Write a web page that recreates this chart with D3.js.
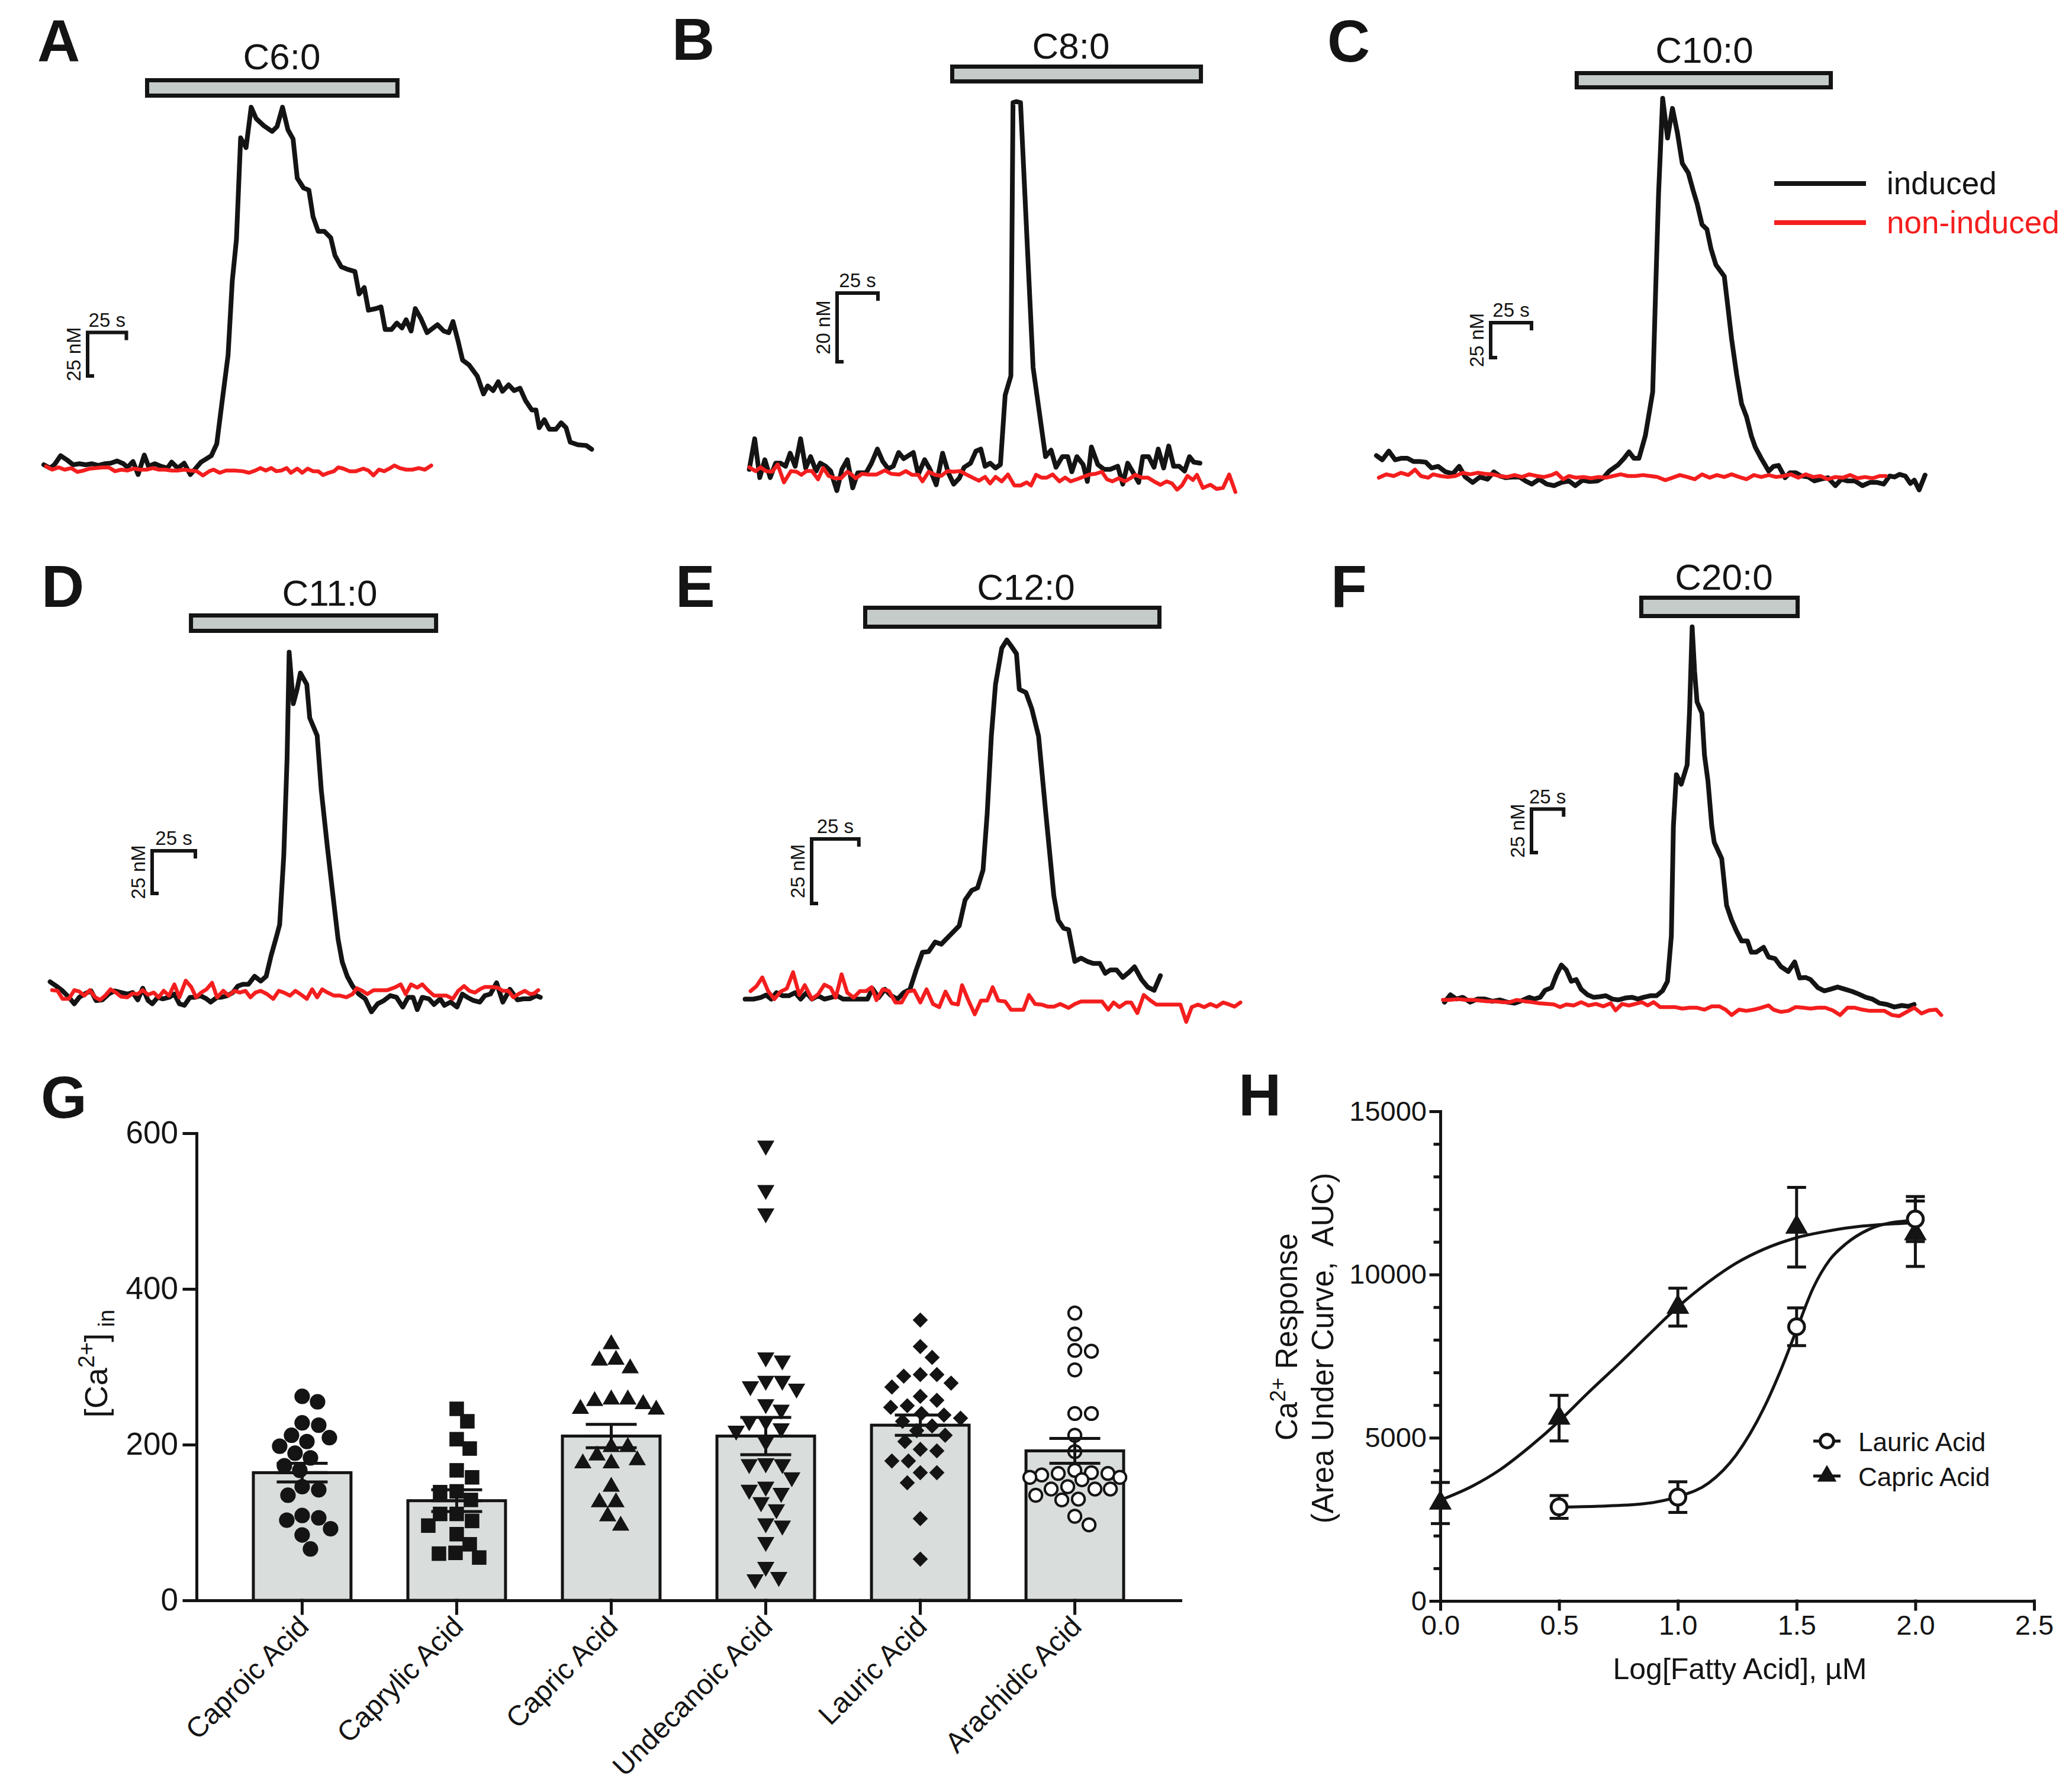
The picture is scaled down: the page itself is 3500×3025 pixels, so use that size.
<!DOCTYPE html>
<html><head><meta charset="utf-8">
<script src="https://cdn.jsdelivr.net/npm/d3@7"></script>
<style>body{margin:0;background:#fff}svg{display:block}text{font-family:"Liberation Sans",Arial,Helvetica,sans-serif}</style>
</head><body>
<svg id="fig" width="3500" height="3025"></svg>
<script>
// ===================== DATA =====================
// Traces: [time (s), Δ[Ca2+] (nM)]
const traceTitles = ["C6:0","C8:0","C10:0","C11:0","C12:0","C20:0"];
const exposureWindows = [[66.6,228],[124.2,276.4],[122.6,278.1],[81.5,223.3],[63.6,219.4],[153.2,274.9]];
const scaleBarNM = [25,20,25,25,25,25];
const scaleBarS = 25;

const traceA_induced = [[0,0],[4.0,-1.9],[6.8,0],[10.8,5.2],[14.9,2.8],[18.9,0],[23.0,0.6],[27.0,0],[31.1,0.6],[35.1,-0.4],[39.2,0.6],[43.2,0.9],[47.3,2.2],[51.3,0.6],[54.0,-1.5],[57.5,1.9],[60.8,-5.6],[64.8,5.6],[67.5,-0.9],[71.6,0.6],[75.6,-0.9],[79.7,-1.9],[82.4,1.5],[86.4,-1.9],[90.5,0.9],[94.5,-5.6],[97.2,-2.8],[101.3,1.5],[105.3,3.7],[108.0,5.2],[111.5,12.0],[114.8,35.2],[118.8,62.9],[121.5,105.5],[124.2,129.5],[126.9,187.8],[130.4,182.2],[133.7,205.4],[136.9,198.9],[141.8,194.8],[147.2,191.5],[150.4,194.3],[153.9,205.4],[157.4,192.4],[160.7,187.2],[163.4,164.7],[167.4,159.1],[170.9,157.8],[173.6,142.5],[176.9,134.1],[180.9,134.1],[185.0,130.4],[187.7,120.3],[191.7,113.8],[195.8,112.3],[200.6,111.0],[203.3,98.1],[206.6,101.8],[209.3,88.8],[214.1,89.7],[217.4,90.7],[220.1,77.7],[224.1,77.7],[227.6,81.4],[230.9,78.6],[233.6,83.3],[236.8,76.8],[239.5,89.7],[243.0,84.2],[247.1,75.9],[253.8,80.5],[257.9,76.8],[261.1,75.9],[263.8,82.3],[267.3,70.3],[270.0,60.1],[274.1,57.4],[279.5,50.9],[283.5,40.7],[286.2,45.3],[289.7,42.6],[293.0,47.7],[295.7,42.2],[299.7,45.9],[303.2,42.6],[307.0,44.0],[310.5,37.0],[314.6,31.5],[317.3,31.5],[319.4,21.3],[322.7,25.9],[325.9,20.4],[330.2,20.4],[333.5,24.1],[336.7,21.3],[339.4,13.0],[344.3,11.5],[349.7,11.1],[353.2,8.9]];
const traceA_noninduced = [[1.4,-0.9],[5.4,-2.8],[9.5,-1.5],[13.5,-2.8],[17.6,-1.9],[21.6,-4.1],[25.7,-3.3],[29.7,-2.2],[33.8,-1.9],[37.8,-1.5],[41.9,-1.5],[45.9,-3.7],[50.0,-2.8],[54.0,-3.3],[58.1,-2.2],[62.1,-2.8],[66.2,-2.8],[70.2,-1.9],[74.3,-2.8],[78.3,-2.8],[82.4,-3.3],[86.4,-3.3],[90.5,-2.8],[94.5,-3.3],[98.6,-3.7],[102.6,-6.1],[106.7,-3.7],[109.4,-2.8],[113.4,-4.6],[117.5,-3.3],[122.9,-3.3],[128.3,-3.7],[132.3,-4.6],[136.4,-3.3],[139.6,-1.9],[143.1,-3.3],[146.6,-1.9],[149.9,-3.7],[153.1,-3.3],[156.6,-1.9],[159.3,-4.6],[163.4,-2.2],[166.6,-4.6],[170.1,-2.2],[173.6,-3.7],[176.9,-3.7],[180.1,-5.9],[183.6,-4.6],[187.1,-3.7],[189.8,-1.5],[193.1,-2.2],[197.1,-3.7],[201.2,-3.7],[206.0,-2.2],[209.3,-3.3],[212.5,-6.1],[216.0,-2.8],[219.5,-3.7],[222.8,-2.2],[226.0,-0.4],[229.5,-1.9],[233.6,-2.8],[237.6,-2.8],[241.7,-1.9],[245.7,-2.8],[249.8,-0.4]];

const traceB_induced = [[0,-0.9],[3.3,8.0],[6.4,-3.3],[9.5,1.9],[12.8,-3.3],[16.1,0.9],[19.2,0.9],[22.2,0],[25.0,3.8],[28.1,0],[31.4,8.0],[34.5,-0.5],[37.5,2.8],[40.9,-1.4],[43.4,0.9],[46.7,0],[49.8,-1.4],[53.6,-7.1],[56.7,-0.9],[60.0,1.9],[63.3,-6.3],[66.4,-1.9],[71.5,-1.9],[74.8,0.9],[78.4,5.0],[81.7,1.4],[85.0,-0.7],[88.1,0],[91.4,4.0],[94.5,2.2],[100.4,4.0],[103.4,-2.4],[107.3,1.9],[110.6,-0.9],[114.4,-5.4],[118.3,3.8],[121.8,-1.9],[125.1,-5.2],[128.5,-3.5],[131.5,-0.3],[135.4,0.9],[138.7,4.4],[141.7,5.0],[144.3,0],[147.4,0.9],[150.7,-0.5],[153.7,0.5],[156.6,20.7],[160.1,26.3],[161.4,105.9],[163.5,106.2],[166.0,105.9],[173.7,28.7],[181.3,2.8],[184.7,4.7],[187.7,-0.3],[191.6,2.8],[194.9,2.8],[197.4,-1.6],[200.5,2.8],[204.3,0.5],[206.9,-4.4],[209.4,5.6],[213.3,0.5],[217.1,-0.9],[220.9,-0.9],[225.5,0],[228.6,-5.2],[231.6,0.9],[235.0,-1.9],[238.3,-4.7],[240.8,2.8],[244.4,2.8],[247.7,-0.3],[250.3,5.0],[253.6,-0.5],[256.7,5.9],[259.7,0],[263.1,0],[266.4,-1.4],[269.4,2.8],[272.0,1.2],[275.8,0.9]];
const traceB_noninduced = [[0,-0.3],[3.8,-1.4],[6.9,-0.3],[10.2,-1.4],[14.0,-1.6],[17.4,0.5],[21.2,-4.7],[25.5,-1.4],[28.9,-1.6],[31.9,-2.5],[35.0,-1.4],[38.3,-1.4],[42.1,-3.8],[45.2,-0.5],[48.5,-2.8],[52.4,-3.5],[56.2,-3.5],[60.0,-1.6],[62.6,-2.4],[65.1,-3.5],[69.0,-2.2],[72.8,-2.4],[77.9,-2.4],[83.0,-1.2],[86.8,-2.2],[91.9,-2.4],[95.8,-1.4],[99.6,-2.5],[103.4,-2.5],[106.0,-4.4],[109.8,-1.6],[113.7,-2.5],[117.5,-2.8],[121.3,-1.4],[125.1,-1.6],[129.0,-1.4],[132.8,-2.4],[136.6,-3.3],[140.5,-4.2],[144.3,-3.1],[147.4,-5.0],[150.7,-3.1],[154.5,-4.4],[158.3,-2.4],[162.2,-5.6],[166.0,-5.6],[169.8,-4.7],[172.4,-5.6],[175.5,-2.5],[178.8,-3.3],[182.1,-3.3],[185.7,-2.4],[189.8,-4.4],[193.3,-3.3],[196.7,-4.4],[200.5,-3.8],[204.3,-3.1],[208.2,-2.4],[212.0,-2.2],[215.8,-1.6],[218.9,-3.8],[222.2,-4.4],[226.0,-3.5],[229.9,-4.4],[233.2,-3.5],[236.2,-2.5],[240.1,-3.3],[243.9,-3.3],[247.7,-4.4],[251.6,-5.4],[255.4,-4.4],[258.7,-5.0],[261.8,-6.8],[264.8,-5.6],[268.2,-2.8],[271.5,-4.0],[274.0,-2.5],[277.6,-6.3],[282.2,-5.4],[286.0,-6.6],[289.9,-6.3],[293.7,-2.4],[297.5,-7.5]];

const traceC_induced = [[0,14.6],[3.6,11.6],[7.6,17.8],[11.5,11.6],[15.1,12.7],[19.0,12.7],[22.7,10.4],[26.6,10.4],[30.2,9.9],[33.8,5.8],[37.8,6.9],[42.3,3.0],[46.8,1.6],[50.7,6.9],[54.4,-0.7],[58.9,-4.6],[63.4,-0.7],[68.0,-2.3],[71.9,3.0],[75.5,0],[79.1,-1.2],[83.1,-0.7],[87.6,-0.7],[91.2,-3.5],[95.1,-5.8],[99.7,-2.3],[104.2,-5.8],[108.7,-6.9],[113.3,-4.6],[117.8,-3.5],[121.7,-6.9],[126.2,-3.0],[130.5,-3.9],[135.3,-3.5],[138.9,-1.2],[142.5,3.5],[148.0,8.1],[151.6,12.7],[154.6,17.3],[157.6,12.7],[160.7,12.7],[164.6,28.9],[169.1,60.1],[170.9,132.9],[172.7,202.2],[175.2,270.3],[178.2,241.9],[181.2,263.1],[184.2,245.8],[187.2,223.8],[190.9,216.9],[193.9,204.2],[196.3,194.9],[199.3,179.9],[202.3,176.5],[204.8,162.6],[207.8,151.1],[212.9,143.0],[215.0,122.2],[217.4,98.0],[220.5,72.5],[223.5,51.7],[226.5,42.5],[229.5,28.6],[231.9,20.6],[235.6,12.5],[240.1,3.5],[243.1,6.9],[246.1,7.6],[250.1,-1.2],[253.1,2.3],[256.7,2.3],[260.3,0],[264.3,-0.7],[268.2,-3.5],[271.8,-2.3],[276.3,-1.2],[280.9,-6.9],[284.5,-2.3],[288.4,-3.5],[292.9,-3.5],[297.5,-6.9],[302.0,-4.6],[306.5,-4.6],[310.5,-5.8],[314.1,0],[317.1,-0.7],[320.1,1.2],[323.7,0],[326.8,-5.3],[329.2,-3.0],[332.2,-9.9],[335.8,0.7]];
const traceC_noninduced = [[1.5,-1.2],[6.0,1.2],[10.6,0],[15.1,2.3],[19.6,0.7],[23.6,4.6],[27.2,0],[31.7,-1.2],[34.7,1.2],[39.3,0],[43.8,-0.7],[48.3,0],[52.9,2.3],[57.4,1.2],[61.9,2.3],[66.4,1.6],[71.0,1.2],[75.5,0],[80.0,-0.7],[84.6,0.7],[89.1,-0.7],[93.6,1.2],[98.2,0],[102.7,-0.7],[107.2,0.7],[110.2,2.3],[114.2,-2.3],[117.8,0],[122.3,-1.2],[126.8,-0.7],[131.4,-1.6],[135.9,-0.7],[140.4,-1.2],[145.0,0],[149.5,1.2],[154.0,0],[158.6,0],[163.1,0.7],[167.6,0],[172.1,-0.7],[176.7,-3.0],[181.2,-1.2],[185.7,0.7],[190.3,-0.7],[194.8,-2.3],[199.3,1.2],[203.9,-1.2],[208.4,0.7],[212.9,-0.7],[217.4,1.2],[222.0,-0.7],[226.5,-2.3],[231.0,0.7],[235.6,-0.7],[240.1,0.7],[244.6,-0.7],[249.2,0],[253.7,1.2],[258.2,-1.2],[262.7,1.2],[267.3,-0.7],[271.8,0],[276.3,-2.3],[280.9,-0.7],[285.4,-1.2],[289.9,0.7],[294.5,-1.6],[299.0,-0.7],[303.5,-1.6],[308.0,0],[311.7,0]];

const traceD_induced = [[0,7.2],[3.6,4.7],[7.2,1.9],[10.9,-1.9],[14.0,-5.7],[16.9,-1.9],[20.5,0.4],[23.7,1.9],[26.6,-3.8],[30.2,-3.4],[33.8,0],[37.4,1.9],[41.0,0.9],[44.7,0],[47.8,0.9],[50.7,-3.4],[53.6,3.4],[56.7,-3.8],[59.1,-5.7],[62.3,-1.9],[65.2,-2.8],[68.8,-1.9],[71.9,0],[74.8,-5.7],[77.7,-6.6],[80.9,-1.9],[84.0,-1.9],[86.9,-0.9],[90.5,-2.8],[92.9,-4.7],[96.6,-1.9],[99.0,-1.9],[102.6,-0.9],[105.7,0.9],[108.6,4.7],[111.5,5.7],[114.7,5.7],[118.3,10.4],[121.9,7.6],[125.0,10.4],[127.9,22.7],[130.8,33.1],[132.8,40.7],[135.2,81.4],[137.1,138.1],[138.3,200.5],[140.7,170.3],[142.9,178.8],[144.8,188.3],[148.5,181.6],[150.2,162.0],[154.5,151.6],[156.9,119.4],[160.5,85.4],[164.2,53.0],[166.6,32.2],[169.0,18.9],[171.9,10.4],[175.0,4.7],[178.6,0],[182.3,-2.8],[185.9,-10.4],[189.5,-5.7],[193.1,-3.8],[196.8,-0.9],[200.4,-1.9],[204.0,-7.6],[207.1,-1.9],[210.0,-1.9],[212.4,-9.1],[215.3,-1.9],[219.2,-2.8],[222.1,-6.1],[225.7,-2.8],[228.1,-6.6],[231.7,-4.7],[235.4,-7.6],[238.5,0],[241.4,-1.9],[245.0,-3.8],[248.6,-4.7],[251.5,-0.9],[254.7,0],[258.3,6.6],[261.9,-4.7],[266.0,2.8],[270.4,-3.4],[273.9,-2.8],[277.6,-2.8],[281.2,-0.9],[283.6,-1.9]];
const traceD_noninduced = [[1.2,2.3],[4.3,1.9],[7.2,-2.8],[10.9,-2.8],[14.0,2.3],[16.9,1.5],[19.8,-0.9],[23.0,2.3],[26.1,-1.9],[29.0,-3.4],[31.9,-0.9],[35.0,2.8],[38.1,0.9],[41.0,-1.5],[44.7,-1.9],[47.8,0.4],[50.7,0],[53.6,2.3],[56.7,-0.4],[59.9,0.9],[62.8,-1.9],[65.7,1.9],[68.8,-0.9],[71.9,5.7],[74.8,-1.9],[78.5,7.9],[81.6,4.2],[84.5,-1.9],[87.4,0.9],[90.5,2.8],[93.7,6.6],[96.6,-1.9],[100.2,1.9],[103.3,-0.9],[106.7,1.9],[109.8,0.9],[113.0,1.9],[115.9,-1.9],[118.8,0.9],[121.9,1.9],[125.5,0],[129.1,-2.8],[132.3,1.9],[135.2,0.9],[138.8,-0.9],[141.9,1.9],[145.3,-0.4],[148.5,-2.8],[151.6,2.8],[154.5,-1.9],[157.4,2.8],[160.5,0.9],[164.2,-0.9],[167.8,-0.9],[171.4,-1.9],[175.0,0],[177.4,3.4],[180.6,1.9],[183.5,0],[187.1,2.3],[191.2,2.3],[195.1,2.3],[199.2,3.8],[202.8,5.7],[205.7,0],[208.8,5.7],[212.4,3.8],[215.3,5.7],[218.5,2.3],[222.1,-0.9],[225.7,-0.9],[229.3,-0.9],[233.0,-2.8],[236.1,1.9],[239.5,4.7],[242.6,1.9],[245.7,0.9],[248.6,2.8],[251.5,4.2],[255.4,4.2],[258.8,3.8],[261.9,1.9],[265.1,1.9],[268.0,-1.9],[271.6,0.4],[274.7,1.9],[277.6,0],[280.0,0.4],[282.4,2.3]];

const traceE_induced = [[0,0],[4.4,0],[8.2,0.6],[11.1,1.6],[13.9,0],[16.6,2.5],[19.9,1.3],[23.2,1.3],[26.5,2.5],[29.4,0],[32.5,2.5],[35.4,0],[38.7,1.3],[42.0,0],[45.3,0.6],[48.6,1.3],[51.9,0],[55.3,0],[58.6,0],[61.9,0],[64.8,0],[67.4,4.1],[70.7,0.6],[74.0,3.8],[77.4,1.3],[80.7,0],[84.0,2.5],[87.3,3.8],[90.6,11.3],[93.9,18.1],[97.2,18.4],[100.6,22.1],[103.9,21.3],[108.3,24.6],[113.4,28.4],[116.5,38.4],[120.0,42.1],[123.1,43.1],[126.0,50.0],[128.2,71.9],[130.4,101.9],[132.6,121.9],[135.9,135.9],[138.6,139.1],[140.8,136.9],[143.7,133.8],[145.2,120.0],[148.7,118.8],[151.8,112.5],[155.4,101.9],[159.1,73.1],[163.5,40.0],[165.8,30.6],[168.6,27.5],[171.3,26.9],[174.6,14.6],[177.9,15.9],[181.2,14.6],[184.5,13.8],[187.9,13.8],[190.7,10.0],[193.4,11.3],[196.7,11.3],[200.0,8.4],[203.3,10.4],[206.2,12.5],[210.0,7.5],[213.3,4.6],[216.6,3.4],[219.9,9.1]];
const traceE_noninduced = [[2.9,3.1],[6.0,5.0],[9.1,8.4],[12.2,3.1],[15.5,0],[18.8,2.9],[22.1,4.1],[25.4,10.4],[28.7,1.6],[31.6,5.4],[35.4,0],[38.7,1.9],[42.0,5.6],[45.3,4.4],[48.0,0.6],[51.1,9.6],[54.1,2.5],[57.5,0.6],[60.8,3.1],[64.1,3.1],[67.0,4.6],[69.6,-0.4],[72.9,3.8],[76.2,3.1],[79.6,-1.3],[82.9,-1.3],[86.2,2.9],[89.5,3.4],[92.8,-1.3],[96.1,3.8],[99.5,-1.9],[102.8,-3.1],[106.1,2.9],[109.4,-1.6],[112.7,-2.1],[114.9,5.4],[118.2,-0.4],[121.6,-5.9],[124.9,-0.6],[128.2,-0.6],[131.1,4.6],[134.1,-0.6],[137.7,-0.9],[140.8,-4.1],[144.3,-4.1],[147.4,-4.1],[150.3,1.6],[153.6,-1.9],[156.9,-2.1],[160.2,-2.9],[163.5,-2.9],[166.9,-1.9],[171.3,-3.4],[174.6,-1.9],[177.9,-0.9],[182.3,-0.9],[185.6,-0.9],[189.0,-0.9],[192.3,-4.1],[195.1,-1.3],[198.2,-3.1],[201.8,-1.3],[204.4,-1.3],[207.7,-5.4],[211.1,1.6],[214.4,-0.4],[217.7,-2.1],[221.0,-2.1],[224.3,-2.1],[227.6,-2.1],[230.5,-2.1],[233.6,-8.8],[236.5,-3.1],[239.8,-2.1],[243.1,-3.1],[246.4,-1.9],[249.7,-2.9],[253.1,-1.3],[256.4,-2.1],[259.2,-2.9],[262.3,-1.3]];

const traceF_induced = [[0,-0.9],[4.6,3.3],[9.2,0.9],[14.2,1.9],[20.0,-0.9],[25.7,0.9],[31.5,0.9],[37.2,-0.4],[43.0,0.4],[48.8,-0.9],[54.5,-1.5],[60.3,0],[66.0,1.9],[69.9,0.9],[74.5,1.9],[78.3,5.9],[83.3,7.4],[87.2,14.8],[91.0,20.4],[94.8,17.6],[98.7,11.1],[102.5,12.1],[106.4,6.5],[111.4,3.3],[116.0,1.9],[120.6,2.2],[125.6,2.8],[130.6,0.9],[135.2,0.4],[140.9,1.5],[145.9,1.9],[150.5,0.9],[155.1,1.9],[160.1,2.8],[165.1,2.8],[169.7,5.6],[173.6,11.1],[176.6,37.1],[178.2,100.1],[180.5,129.8],[184.3,124.3],[188.9,135.4],[190.8,166.9],[192.8,214.7],[194.7,189.2],[196.6,171.6],[200.4,165.1],[202.4,141.0],[205.1,126.1],[208.1,100.1],[210.0,90.9],[215.8,81.6],[219.6,54.7],[223.5,46.3],[227.3,39.9],[231.2,34.3],[235.8,34.3],[238.8,27.8],[242.7,27.8],[248.4,30.6],[252.3,25.0],[257.3,24.1],[261.9,19.5],[267.6,16.7],[272.6,22.2],[276.5,13.0],[281.1,13.3],[284.9,12.1],[290.7,7.4],[295.7,5.6],[300.3,6.5],[306.0,7.8],[311.8,6.5],[317.6,5.2],[322.6,3.7],[327.9,1.9],[332.9,0.9],[338.7,-1.5],[344.4,-2.2],[350.2,-3.7],[356.0,-2.8],[361.0,-3.3],[365.6,-2.2]];
const traceF_noninduced = [[-1.2,0.4],[4.6,0.4],[10.4,0.9],[16.1,0.4],[21.9,0.4],[27.6,0],[33.4,-0.4],[39.2,-0.4],[44.9,-0.9],[50.7,-0.9],[56.4,0.4],[62.2,-0.4],[68.0,-0.9],[73.7,-1.5],[79.5,-1.9],[85.2,-2.2],[89.9,-3.7],[94.8,-2.2],[100.6,-2.8],[106.4,-0.9],[112.1,-2.8],[117.9,-1.9],[123.6,-3.3],[129.4,-1.5],[133.2,-5.6],[138.2,-1.9],[143.6,-2.8],[148.6,-1.9],[153.6,-0.9],[158.2,-2.8],[162.8,-0.9],[167.8,-3.7],[173.6,-3.7],[179.3,-3.7],[185.1,-4.6],[190.8,-4.1],[196.6,-4.1],[202.4,-5.2],[208.1,-3.3],[213.9,-3.3],[218.9,-5.2],[223.5,-8.3],[229.2,-5.2],[235.0,-5.9],[240.8,-5.2],[246.5,-4.1],[252.3,-2.8],[256.1,-5.2],[261.9,-6.5],[267.6,-5.9],[273.4,-3.7],[279.2,-4.1],[284.9,-4.6],[290.7,-4.1],[296.4,-4.1],[302.2,-5.6],[308.0,-8.3],[313.7,-4.1],[319.5,-4.1],[325.2,-5.2],[331.0,-5.9],[336.8,-5.9],[342.5,-5.9],[348.3,-8.3],[354.0,-8.9],[359.8,-6.5],[365.6,-4.1],[371.3,-7.4],[377.1,-5.6],[382.8,-5.2],[386.7,-8.3]];

const legendLabels = ["induced","non-induced"];

// Panel G: [Ca2+]in per cell
const acidNames = ["Caproic Acid","Caprylic Acid","Capric Acid","Undecanoic Acid","Lauric Acid","Arachidic Acid"];
const meanCa = [164,128,211,211,225,192];
const semCa = [12,14,15,24,13,16];
const caproicPts = [212,183,103,225,198,167,135,92,66,262,255,204,173,142,106,84,228,209,189,146,109];
const caprylicPts = [139,111,85,55,230,207,167,129,102,72,246,195,158,111,60,140,96,61];
const capricPts = [258,197,180,309,256,176,96,298,258,245,186,146,126,329,308,246,126,108,252,197,176];
const undecanoicPts = [584,527,497,282,308,312,282,275,272,252,245,230,230,218,221,204,176,175,175,158,146,142,138,126,117,96,99,75,43,27,30];
const lauricPts = [360,326,312,279,288,290,290,274,257,250,262,248,238,234,230,240,212,218,224,192,194,204,179,179,164,164,151,105,53];
const arachidicPts = [369,342,320,321,296,240,240,212,191,158,163,164,161,155,158,163,167,143,135,143,146,143,129,130,108,97];
const yTicksG = [0,200,400,600];

// Panel H: dose response (AUC)
const capricLogConc = [0,0.5,1,1.5,2];
const capricAUC = [3000,5600,9000,11450,11250];
const capricAUCsem = [630,700,580,1220,1000];
const lauricLogConc = [0.5,1,1.5,2];
const lauricAUC = [2880,3180,8400,11700];
const lauricAUCsem = [350,470,580,690];
const capricFit = [[0,3088],[0.134,3515],[0.25,4013],[0.377,4724],[0.5,5507],[0.62,6361],[0.759,7314],[0.875,8140],[0.998,8993],[1.13,9776],[1.245,10345],[1.361,10772],[1.5,11128],[1.639,11341],[1.778,11484],[1.991,11583]];
const lauricFit = [[0.5,2874],[0.667,2903],[0.852,2974],[0.998,3188],[1.13,3614],[1.245,4468],[1.361,5891],[1.431,7029],[1.5,8310],[1.57,9591],[1.639,10445],[1.708,10943],[1.801,11370],[1.894,11583],[1.991,11654]];
const xTicksH = [0,0.5,1,1.5,2,2.5];
const yTicksH = [0,5000,10000,15000];
const hLegend = ["Lauric Acid","Capric Acid"];

// ===================== DRAWING =====================
const svg = d3.select("#fig");
const INK = "#141414", RED = "#f41e1e";
const FONT = '"Liberation Sans", Arial, Helvetica, sans-serif';

const traces = [
  [traceA_induced, traceA_noninduced],[traceB_induced, traceB_noninduced],[traceC_induced, traceC_noninduced],
  [traceD_induced, traceD_noninduced],[traceE_induced, traceE_noninduced],[traceF_induced, traceF_noninduced]];
const layout = [
  {label:"A", lx:63, ly:104, tx:476, ty:117, x0:74, y0:785, pxS:2.62, pxNM:2.94, barY:135.5, barH:26, sbX:148, sbY:635},
  {label:"B", lx:1135, ly:101, tx:1809, ty:99, x0:1265.7, y0:787.5, pxS:2.76, pxNM:5.8, barY:112.5, barH:25, sbX:1414, sbY:611},
  {label:"C", lx:2242, ly:104, tx:2879, ty:106, x0:2325, y0:804, pxS:2.76, pxNM:2.36, barY:123.5, barH:24, sbX:2518, sbY:604},
  {label:"D", lx:70, ly:1025, tx:557, ty:1023, x0:84.6, y0:1679, pxS:2.92, pxNM:2.88, barY:1039.5, barH:26, sbX:257, sbY:1509},
  {label:"E", lx:1141, ly:1025, tx:1733, ty:1013, x0:1258.6, y0:1687.5, pxS:3.19, pxNM:4.36, barY:1026.5, barH:32, sbX:1371, sbY:1526},
  {label:"F", lx:2248, ly:1025, tx:2912, ty:996, x0:2440, y0:1690, pxS:2.17, pxNM:2.94, barY:1009.5, barH:31, sbX:2587, sbY:1440}];

function panelLabel(t,x,y){
  svg.append("text").attr("x",x).attr("y",y).text(t)
    .attr("font-size",100).attr("font-weight","bold").attr("fill",INK).attr("font-family",FONT);
}

layout.forEach((L,i)=>{
  const g = svg.append("g");
  const x = d3.scaleLinear().domain([0,100]).range([L.x0, L.x0+100*L.pxS]);
  const y = d3.scaleLinear().domain([0,100]).range([L.y0, L.y0-100*L.pxNM]);
  const line = d3.line().x(d=>x(d[0])).y(d=>y(d[1]));
  const [ind, non] = traces[i];
  g.append("path").attr("d",line(ind)).attr("fill","none").attr("stroke",INK)
    .attr("stroke-width",8).attr("stroke-linejoin","round").attr("stroke-linecap","round");
  g.append("path").attr("d",line(non)).attr("fill","none").attr("stroke",RED)
    .attr("stroke-width",6.5).attr("stroke-linejoin","round").attr("stroke-linecap","round");
  const w = exposureWindows[i];
  g.append("rect").attr("x",x(w[0])).attr("width",x(w[1])-x(w[0]))
    .attr("y",L.barY).attr("height",L.barH).attr("fill","#c4cbc9").attr("stroke",INK).attr("stroke-width",7);
  g.append("text").attr("x",L.tx).attr("y",L.ty).attr("text-anchor","middle")
    .attr("font-size",62).attr("fill",INK).text(traceTitles[i]);
  const top = y(scaleBarNM[i]) - (y(0) - L.sbY);
  const right = L.sbX + (x(scaleBarS) - x(0));
  g.append("path").attr("d",`M${L.sbX+11},${L.sbY} H${L.sbX} V${top} H${right} V${top+13}`)
    .attr("fill","none").attr("stroke",INK).attr("stroke-width",6);
  g.append("text").attr("x",(L.sbX+right)/2).attr("y",top-10).attr("text-anchor","middle")
    .attr("font-size",33).attr("fill",INK).text(scaleBarS+" s");
  g.append("text").attr("transform",`translate(${L.sbX-12},${(top+L.sbY)/2}) rotate(-90)`)
    .attr("text-anchor","middle").attr("font-size",33).attr("fill",INK).text(scaleBarNM[i]+" nM");
  panelLabel(L.label, L.lx, L.ly);
});

[[INK,310],[RED,376]].forEach((c,k)=>{
  svg.append("line").attr("x1",2997).attr("x2",3152).attr("y1",c[1]).attr("y2",c[1])
    .attr("stroke",c[0]).attr("stroke-width",8);
  svg.append("text").attr("x",3187).attr("y",c[1]+18).attr("font-size",53).attr("fill",c[0]).text(legendLabels[k]);
});

// ---------- Panel G ----------
panelLabel("G",69,1888);
const gG = svg.append("g");
const gx = d3.scaleBand().domain(acidNames).range([332,1994]).paddingInner(0.349).paddingOuter(0.358);
const gy = d3.scaleLinear().domain([0,600]).range([2703,1914]);
const bw = gx.bandwidth();
gG.selectAll("rect.bar").data(acidNames).join("rect").attr("class","bar")
  .attr("x",d=>gx(d)+2.5).attr("width",bw-5)
  .attr("y",(d,i)=>gy(meanCa[i])).attr("height",(d,i)=>gy(0)-gy(meanCa[i]))
  .attr("fill","#d9dddc").attr("stroke",INK).attr("stroke-width",5);

// compact beeswarm limited to a maximum half-width (GraphPad-like, overlap allowed when crowded)
function swarm(vals, cx, d, maxOff){
  const items = vals.map(v=>({v})).sort((a,b)=>b.v-a.v);
  const placed = [];
  const cands = [0];
  for(let o=2;o<=maxOff;o+=2){cands.push(o,-o);}
  items.forEach(p=>{
    const py = gy(p.v);
    let best=null, bestD=-1;
    for(const off of cands){
      const px=cx+off;
      let md=Infinity;
      placed.forEach(q=>{md=Math.min(md,Math.hypot(q.x-px,q.y-py));});
      if(md>=d){best=px;bestD=md;break;}
      if(md>bestD+0.5){bestD=md;best=px;}
    }
    placed.push({x:best,y:py});
  });
  return placed;
}
const ptsets = [caproicPts,caprylicPts,capricPts,undecanoicPts,lauricPts,arachidicPts];
const shapes = [
  {t:d3.symbolCircle,s:540,rot:0,fill:INK},
  {t:d3.symbolSquare,s:600,rot:0,fill:INK},
  {t:d3.symbolTriangle,s:370,rot:0,fill:INK},
  {t:d3.symbolTriangle,s:370,rot:180,fill:INK},
  {t:d3.symbolSquare,s:330,rot:45,fill:INK},
  {t:d3.symbolCircle,s:360,rot:0,fill:"#fff",stroke:INK}];
ptsets.forEach((vals,i)=>{
  const cx = gx(acidNames[i]) + bw/2;
  const sh = shapes[i];
  const pts = swarm(vals, cx, 27, 76);
  gG.selectAll(null).data(pts).join("path")
    .attr("d", d3.symbol().type(sh.t).size(sh.s)())
    .attr("transform", d=>`translate(${d.x},${d.y}) rotate(${sh.rot})`)
    .attr("fill", sh.fill).attr("stroke", sh.stroke||"none").attr("stroke-width", sh.stroke?4:0);
});
acidNames.forEach((n,i)=>{
  const cx = gx(n)+bw/2, yh = gy(meanCa[i]+semCa[i]), yl = gy(meanCa[i]-semCa[i]), ym = gy(meanCa[i]);
  const e = gG.append("g").attr("stroke",INK).attr("stroke-width",5);
  e.append("line").attr("x1",cx).attr("x2",cx).attr("y1",yh).attr("y2",yl);
  e.append("line").attr("x1",cx-43).attr("x2",cx+43).attr("y1",yh).attr("y2",yh);
  e.append("line").attr("x1",cx-43).attr("x2",cx+43).attr("y1",yl).attr("y2",yl);
  e.append("line").attr("x1",cx-43).attr("x2",cx+43).attr("y1",ym).attr("y2",ym);
});
const axGy = gG.append("g").attr("transform","translate(332,0)")
  .call(d3.axisLeft(gy).tickValues(yTicksG).tickSize(21).tickSizeOuter(0).tickPadding(10));
const axGx = gG.append("g").attr("transform","translate(0,2703)")
  .call(d3.axisBottom(gx).tickSize(22).tickSizeOuter(0).tickFormat(""));
[axGy,axGx].forEach(a=>{
  a.selectAll("path,line").attr("stroke",INK).attr("stroke-width",5).attr("stroke-linecap","square");
  a.selectAll("text").attr("font-size",53).attr("font-family",FONT).attr("fill",INK);
});
acidNames.forEach(n=>{
  const cx = gx(n)+bw/2;
  gG.append("text").attr("transform",`translate(${cx+14},${2750}) rotate(-45)`)
    .attr("text-anchor","end").attr("font-size",48).attr("fill",INK).text(n);
});
const gyt = gG.append("text").attr("transform","translate(181,2303) rotate(-90)")
  .attr("text-anchor","middle").attr("font-size",54).attr("fill",INK);
gyt.append("tspan").text("[Ca");
gyt.append("tspan").attr("font-size",38).attr("dy",-22).text("2+");
gyt.append("tspan").attr("dy",22).text("]");
gyt.append("tspan").attr("font-size",38).attr("dy",12).text(" in");

// ---------- Panel H ----------
panelLabel("H",2092,1884);
const gH = svg.append("g");
const hx = d3.scaleLinear().domain([0,2.5]).range([2433,3436]);
const hy = d3.scaleLinear().domain([0,15000]).range([2704,1877]);
const fitLine = d3.line().x(d=>hx(d[0])).y(d=>hy(d[1])).curve(d3.curveMonotoneX);
[capricFit,lauricFit].forEach(f=>gH.append("path").attr("d",fitLine(f)).attr("fill","none")
  .attr("stroke",INK).attr("stroke-width",5));
function errBars(xs,ys,es){
  xs.forEach((xv,i)=>{
    const cx=hx(xv), t=hy(ys[i]+es[i]), b=hy(ys[i]-es[i]);
    const e=gH.append("g").attr("stroke",INK).attr("stroke-width",5);
    e.append("line").attr("x1",cx).attr("x2",cx).attr("y1",t).attr("y2",b);
    e.append("line").attr("x1",cx-16).attr("x2",cx+16).attr("y1",t).attr("y2",t);
    e.append("line").attr("x1",cx-16).attr("x2",cx+16).attr("y1",b).attr("y2",b);
  });
}
errBars(capricLogConc,capricAUC,capricAUCsem);
errBars(lauricLogConc,lauricAUC,lauricAUCsem);
const triSym = d3.symbol().type(d3.symbolTriangle).size(640)();
const circSym = d3.symbol().type(d3.symbolCircle).size(560)();
gH.selectAll(null).data(capricLogConc).join("path").attr("d",triSym)
  .attr("transform",(d,i)=>`translate(${hx(d)},${hy(capricAUC[i])})`).attr("fill",INK);
gH.selectAll(null).data(lauricLogConc).join("path").attr("d",circSym)
  .attr("transform",(d,i)=>`translate(${hx(d)},${hy(lauricAUC[i])})`).attr("fill","#fff")
  .attr("stroke",INK).attr("stroke-width",5);
const axHy = gH.append("g").attr("transform","translate(2433,0)")
  .call(d3.axisLeft(hy).tickValues(yTicksH).tickSize(16).tickSizeOuter(0).tickPadding(7).tickFormat(d3.format("d")));
const axHyMinor = gH.append("g").attr("transform","translate(2433,0)")
  .call(d3.axisLeft(hy).tickValues(d3.range(1000,15000,1000).filter(v=>v%5000)).tickSize(9).tickSizeOuter(0).tickFormat(""));
axHyMinor.select(".domain").remove();
const axHx = gH.append("g").attr("transform","translate(0,2704)")
  .call(d3.axisBottom(hx).tickValues(xTicksH).tickSize(14).tickSizeOuter(0).tickPadding(10).tickFormat(d3.format(".1f")));
[axHy,axHyMinor,axHx].forEach(a=>{
  a.selectAll("path,line").attr("stroke",INK).attr("stroke-width",5).attr("stroke-linecap","square");
  a.selectAll("text").attr("font-size",47).attr("font-family",FONT).attr("fill",INK);
});
gH.append("text").attr("x",2939).attr("y",2836).attr("text-anchor","middle").attr("font-size",50)
  .attr("fill",INK).text("Log[Fatty Acid], µM");
const hy1 = gH.append("text").attr("transform","translate(2191,2258) rotate(-90)")
  .attr("text-anchor","middle").attr("font-size",51).attr("fill",INK);
hy1.append("tspan").text("Ca");
hy1.append("tspan").attr("font-size",36).attr("dy",-20).text("2+");
hy1.append("tspan").attr("dy",20).text(" Response");
gH.append("text").attr("transform","translate(2252,2277) rotate(-90)").attr("text-anchor","middle")
  .attr("font-size",51).attr("fill",INK).style("white-space","pre").text("(Area Under Curve,  AUC)");
[[circSym,2434,true],[triSym,2493,false]].forEach((m,k)=>{
  gH.append("line").attr("x1",3063).attr("x2",3109).attr("y1",m[1]).attr("y2",m[1]).attr("stroke",INK).attr("stroke-width",5);
  gH.append("path").attr("d",m[0]).attr("transform",`translate(3086,${m[1]}) scale(0.85)`)
    .attr("fill",m[2]?"#fff":INK).attr("stroke",m[2]?INK:"none").attr("stroke-width",m[2]?6:0);
  gH.append("text").attr("x",3139).attr("y",m[1]+17).attr("font-size",44).attr("fill",INK).text(hLegend[k]);
});
</script>
</body></html>
